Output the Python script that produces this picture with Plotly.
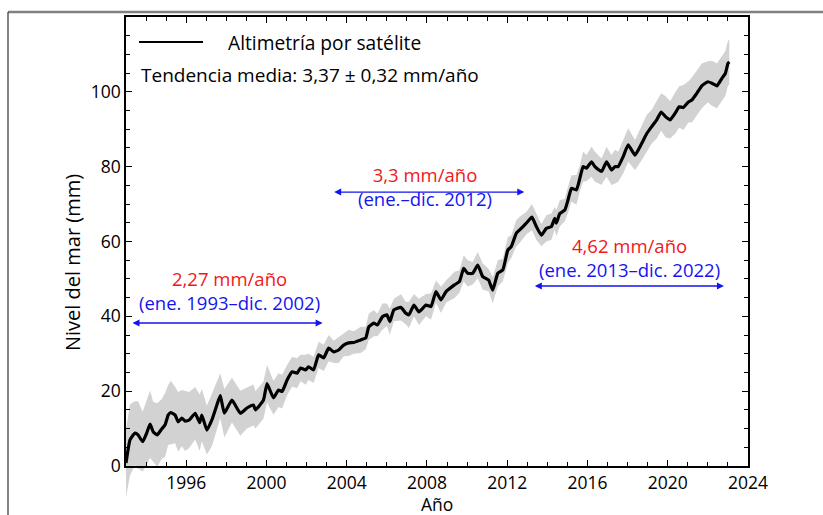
import plotly.graph_objects as go

# Global mean sea level from satellite altimetry (mm), smoothed series
years = [
    1993.00, 1993.20, 1993.45, 1993.60, 1993.83, 1994.03, 1994.20, 1994.35, 1994.55, 1994.78, 1994.95,
    1995.10, 1995.23, 1995.45, 1995.60, 1995.78, 1995.95, 1996.15, 1996.45, 1996.67, 1996.78,
    1997.03, 1997.28, 1997.53, 1997.70, 1997.90, 1998.28, 1998.70, 1999.03, 1999.35, 1999.45, 1999.85,
    2000.03, 2000.35, 2000.60, 2000.78, 2001.03, 2001.28, 2001.53, 2001.70, 2001.95,
    2002.10, 2002.35, 2002.60, 2002.85, 2003.10, 2003.35, 2003.60, 2003.85,
    2004.10, 2004.35, 2004.70, 2004.95, 2005.10, 2005.35, 2005.53, 2005.78,
    2006.00, 2006.15, 2006.35, 2006.70, 2006.95, 2007.10, 2007.35, 2007.60, 2007.95,
    2008.20, 2008.45, 2008.70, 2008.95, 2009.37, 2009.62, 2009.83,
    2010.03, 2010.28, 2010.53, 2010.78, 2011.07, 2011.28, 2011.53, 2011.78,
    2012.03, 2012.20, 2012.45, 2012.62, 2012.95, 2013.23, 2013.45, 2013.70, 2013.95,
    2014.20, 2014.37, 2014.45, 2014.62, 2014.87, 2015.03, 2015.20, 2015.45, 2015.62, 2015.78, 2015.95,
    2016.20, 2016.37, 2016.70, 2016.95, 2017.20, 2017.37, 2017.53, 2017.78,
    2018.03, 2018.37, 2018.70, 2018.95, 2019.20, 2019.45, 2019.67, 2019.90,
    2020.12, 2020.37, 2020.57, 2020.78, 2021.03, 2021.20, 2021.45, 2021.70,
    2022.00, 2022.20, 2022.45, 2022.70, 2022.87, 2023.00, 2023.07,
]

sea_level = [
    0.8, 7.0, 8.8, 8.3, 6.5, 8.8, 11.2, 9.2, 8.3, 9.9, 11.0,
    13.6, 14.3, 13.6, 11.8, 12.8, 12.0, 12.3, 14.1, 11.6, 13.6,
    9.6, 12.3, 16.3, 18.8, 14.1, 17.6, 14.1, 15.5, 16.3, 15.0, 17.6,
    22.0, 18.2, 20.3, 19.9, 23.0, 25.2, 24.8, 26.2, 25.7,
    26.5, 25.7, 29.7, 28.9, 31.5, 30.5, 31.0, 32.3,
    32.9, 33.0, 33.7, 34.2, 37.2, 38.2, 37.7, 39.9,
    40.4, 38.6, 41.7, 42.4, 40.8, 40.4, 43.0, 41.2, 43.0,
    42.6, 46.6, 44.4, 46.6, 48.4, 49.3, 52.8,
    51.5, 51.5, 53.7, 50.6, 49.7, 47.0, 51.5, 52.4,
    57.7, 58.6, 62.2, 63.1, 64.9, 66.5, 64.0, 61.7, 63.5,
    64.0, 66.2, 64.9, 67.5, 68.4, 71.1, 74.2, 73.8, 76.9, 80.0, 79.6,
    81.3, 80.0, 78.7, 81.3, 79.1, 80.0, 80.0, 82.7,
    85.8, 83.1, 86.2, 88.8, 90.7, 92.5, 94.6, 93.3,
    92.5, 94.3, 96.0, 95.8, 97.3, 97.8, 99.6, 101.6,
    102.7, 102.3, 101.6, 103.6, 104.9, 107.6, 108.0,
]

# Half-width of the uncertainty envelope (mm)
uncertainty = [
    9.0, 9.5, 8.5, 9.0, 8.0, 8.5, 9.0, 8.0, 8.5, 8.0, 8.5,
    8.0, 8.5, 7.5, 8.0, 7.5, 8.0, 7.5, 7.0, 7.5, 7.0,
    6.5, 7.0, 6.5, 6.0, 6.5, 6.0, 6.0, 5.5, 5.5, 5.0, 5.0,
    5.0, 4.5, 4.5, 4.5, 4.0, 4.0, 4.0, 3.5, 4.0,
    3.5, 3.5, 3.5, 3.5, 3.5, 3.0, 3.5, 3.0,
    3.5, 3.0, 3.5, 3.0, 3.5, 3.5, 3.0, 3.5,
    3.0, 3.5, 3.0, 3.5, 3.0, 3.5, 3.0, 3.5, 3.0,
    3.5, 3.0, 3.5, 3.0, 3.5, 3.0, 3.5,
    3.5, 3.0, 3.5, 3.5, 3.0, 3.5, 3.5, 3.0,
    3.5, 3.0, 3.5, 3.5, 3.0, 3.5, 3.5, 3.0, 3.5,
    3.5, 3.0, 3.5, 3.5, 3.0, 3.5, 3.5, 4.0, 3.5, 4.0, 3.5,
    4.0, 4.0, 3.5, 4.0, 4.0, 4.5, 4.0, 4.5,
    4.5, 4.0, 4.5, 5.0, 4.5, 5.0, 5.0, 5.5,
    5.0, 5.5, 5.5, 6.0, 5.5, 6.0, 6.0, 6.0,
    5.5, 6.0, 6.0, 6.0, 6.0, 6.0, 6.0,
]

x_ticks = [1996, 2000, 2004, 2008, 2012, 2016, 2020, 2024]
y_ticks = [0, 20, 40, 60, 80, 100]

# Trend periods: (start, end, arrow height mm, rate label, period label, label x, label y)
periods = [
    (1993.25, 2002.8, 38.2, "2,27 mm/año", "(ene. 1993–dic. 2002)", 1998.15, 46.8),
    (2003.3, 2012.85, 73.2, "3,3 mm/año", "(ene.–dic. 2012)", 2007.9, 74.7),
    (2013.3, 2022.8, 48.1, "4,62 mm/año", "(ene. 2013–dic. 2022)", 2018.1, 55.7),
]

legend_label = "Altimetría por satélite"
trend_label = "Tendencia media: 3,37 ± 0,32 mm/año"

assert len(years) == len(sea_level) == len(uncertainty)

upper = [v + u for v, u in zip(sea_level, uncertainty)]
lower = [v - u for v, u in zip(sea_level, uncertainty)]

# Page geometry (pixels)
W, H = 823, 515
ML, MR, MT, MB = 126, 75, 17, 10
PW = W - ML - MR
PH = H - MT - MB
AXIS_BOTTOM_PX = 466
X_RANGE = [1993, 2024]
Y_MAX = 120


def fx(px):
    return (px - ML) / PW


def fy(py):
    return (H - MB - py) / PH


axis_frac = fy(AXIS_BOTTOM_PX)
data_ymin = -axis_frac * Y_MAX / (1 - axis_frac)

FONT = "Open Sans"
BLACK = "#000000"
RED = "#f01818"
BLUE = "#1414f0"

fig = go.Figure()

# Uncertainty envelope and series live on a full-height hidden subplot so the
# envelope may run below the zero line, on the same mm scale as the frame axes.
fig.add_trace(go.Scatter(
    x=years + years[::-1], y=upper + lower[::-1],
    fill="toself", fillcolor="#d2d2d2", line=dict(width=0),
    mode="lines", hoverinfo="skip", showlegend=False,
    xaxis="x", yaxis="y",
))
fig.add_trace(go.Scatter(
    x=years, y=sea_level, mode="lines",
    line=dict(color=BLACK, width=3.2, shape="spline", smoothing=0.4),
    name=legend_label, showlegend=False,
    xaxis="x", yaxis="y",
))

axis_common = dict(
    showline=True, linecolor=BLACK, linewidth=1.5, mirror="allticks",
    ticks="inside", ticklen=6, tickwidth=1.2, tickcolor=BLACK,
    showgrid=False, zeroline=False, automargin=False,
    tickfont=dict(family=FONT, size=17.5, color=BLACK),
)

fig.update_layout(
    width=W, height=H,
    margin=dict(l=ML, r=MR, t=MT, b=MB, autoexpand=False),
    paper_bgcolor="white", plot_bgcolor="rgba(0,0,0,0)",
    showlegend=False,
    xaxis=dict(domain=[0, 1], range=X_RANGE, visible=False, anchor="y", automargin=False),
    yaxis=dict(domain=[0, 1], range=[data_ymin, Y_MAX], visible=False, anchor="x", automargin=False),
    xaxis2=dict(
        domain=[0, 1], range=X_RANGE, anchor="y2",
        tickvals=x_ticks,
        minor=dict(dtick=1, tick0=1993, ticks="inside", ticklen=4, tickcolor=BLACK, tickwidth=1),
        **axis_common,
    ),
    yaxis2=dict(
        domain=[axis_frac, 1], range=[0, Y_MAX], anchor="x2",
        tickvals=y_ticks,
        minor=dict(dtick=5, tick0=0, ticks="inside", ticklen=4, tickcolor=BLACK, tickwidth=1),
        **axis_common,
    ),
)

# Empty trace so the framed subplot is drawn
fig.add_trace(go.Scatter(x=[], y=[], xaxis="x2", yaxis="y2", showlegend=False))

annotations = []
for x0, x1, ya, rate, span, lx, ly in periods:
    annotations.append(dict(
        x=x1, y=ya, ax=x0, ay=ya, xref="x2", yref="y2", axref="x2", ayref="y2",
        text="", showarrow=True, arrowhead=2, arrowside="end+start",
        arrowsize=1, arrowwidth=1.4, arrowcolor=BLUE, standoff=0, startstandoff=0,
    ))
    annotations.append(dict(
        x=lx, y=ly, xref="x2", yref="y2",
        text=f'<span style="color:{RED}">{rate}</span><br>'
             f'<span style="color:{BLUE}">{span}</span>',
        showarrow=False, xanchor="center", yanchor="middle", align="center",
        font=dict(family=FONT, size=18.5, color=BLUE),
    ))

# Legend entry and mean trend text
annotations.append(dict(
    x=fx(226), y=fy(42), xref="paper", yref="paper", text=legend_label,
    showarrow=False, xanchor="left", yanchor="middle",
    font=dict(family=FONT, size=19.2, color=BLACK),
))
annotations.append(dict(
    x=fx(139), y=fy(75), xref="paper", yref="paper", text=trend_label,
    showarrow=False, xanchor="left", yanchor="middle",
    font=dict(family=FONT, size=19, color=BLACK),
))
# Axis titles
annotations.append(dict(
    x=fx(72), y=fy(263), xref="paper", yref="paper", text="Nivel del mar (mm)",
    showarrow=False, xanchor="center", yanchor="middle", textangle=-90,
    font=dict(family=FONT, size=20, color=BLACK),
))
annotations.append(dict(
    x=fx(437), y=fy(503.5), xref="paper", yref="paper", text="Año",
    showarrow=False, xanchor="center", yanchor="middle",
    font=dict(family=FONT, size=17.5, color=BLACK),
))

shapes = [
    # legend line sample
    dict(type="line", xref="paper", yref="paper",
         x0=fx(139), x1=fx(203), y0=fy(42), y1=fy(42),
         line=dict(color=BLACK, width=2)),
    # page frame
    dict(type="line", xref="paper", yref="paper",
         x0=fx(8), x1=fx(W + 2), y0=fy(12), y1=fy(12),
         line=dict(color="#808080", width=2.5)),
    dict(type="line", xref="paper", yref="paper",
         x0=fx(8), x1=fx(8), y0=fy(12), y1=fy(H + 2),
         line=dict(color="#303030", width=1.2)),
]

fig.update_layout(annotations=annotations, shapes=shapes)

fig.write_html("out.html")
